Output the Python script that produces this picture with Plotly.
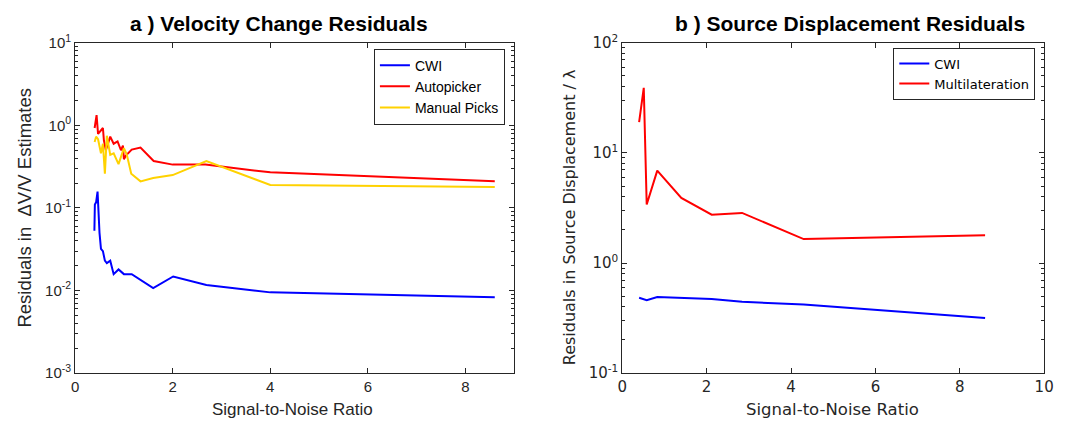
import plotly.graph_objects as go

# ---- Panel a data ----
cwi_a_x = [0.395, 0.405, 0.43, 0.46, 0.50, 0.53, 0.57, 0.61, 0.65, 0.72, 0.79, 0.89, 1.00, 1.16, 1.60, 2.01, 2.69, 4.0, 8.6]
cwi_a_y = [0.053, 0.11, 0.117, 0.158, 0.05, 0.032, 0.030, 0.023, 0.0215, 0.023, 0.0158, 0.018, 0.0158, 0.0158, 0.0107, 0.0148, 0.0117, 0.0095, 0.0083]

auto_x = [0.40, 0.44, 0.47, 0.57, 0.59, 0.63, 0.72, 0.79, 0.87, 0.94, 0.98, 1.00, 1.04, 1.16, 1.34, 1.61, 2.0, 2.67, 4.0, 8.6]
auto_y = [0.93, 1.33, 0.79, 0.93, 0.66, 0.50, 0.73, 0.60, 0.64, 0.50, 0.57, 0.39, 0.43, 0.51, 0.54, 0.37, 0.335, 0.335, 0.27, 0.21]

man_x = [0.40, 0.43, 0.47, 0.53, 0.57, 0.61, 0.65, 0.72, 0.79, 0.89, 1.00, 1.06, 1.15, 1.34, 1.60, 2.0, 2.69, 4.0, 8.6]
man_y = [0.63, 0.73, 0.68, 0.46, 0.60, 0.26, 0.75, 0.44, 0.46, 0.34, 0.53, 0.44, 0.26, 0.21, 0.23, 0.25, 0.37, 0.19, 0.18]

# ---- Panel b data ----
cwi_b_x = [0.40, 0.58, 0.83, 2.12, 2.84, 4.3, 8.6]
cwi_b_y = [0.483, 0.46, 0.49, 0.47, 0.444, 0.42, 0.316]

multi_x = [0.40, 0.51, 0.58, 0.83, 1.40, 2.12, 2.84, 4.3, 8.6]
multi_y = [19, 39, 3.4, 6.9, 3.9, 2.75, 2.85, 1.65, 1.79]

ya_vals = [1e-3, 1e-2, 1e-1, 1e0, 1e1]
ya_text = ["10<sup>-3</sup>", "10<sup>-2</sup>", "10<sup>-1</sup>", "10<sup>0</sup>", "10<sup>1</sup>"]
yb_vals = [1e-1, 1e0, 1e1, 1e2]
yb_text = ["10<sup>-1</sup>", "10<sup>0</sup>", "10<sup>1</sup>", "10<sup>2</sup>"]
xa_ticks = [0, 2, 4, 6, 8]
xb_ticks = [0, 2, 4, 6, 8, 10]

BLUE = "#0000FF"
RED = "#FF0000"
GOLD = "#FFD200"
AX = "#262626"

# page is offset by the default 8px body margin
W, H, OFF = 1058, 427, 8
def px(xp):
    return (xp - OFF) / W
def py(yp):
    return 1 - (yp - OFF) / H

fig = go.Figure()
fig.add_trace(go.Scatter(x=cwi_a_x, y=cwi_a_y, mode="lines", name="CWI",
                         line=dict(color=BLUE, width=2), xaxis="x", yaxis="y", legend="legend"))
fig.add_trace(go.Scatter(x=auto_x, y=auto_y, mode="lines", name="Autopicker",
                         line=dict(color=RED, width=2), xaxis="x", yaxis="y", legend="legend"))
fig.add_trace(go.Scatter(x=man_x, y=man_y, mode="lines", name="Manual Picks",
                         line=dict(color=GOLD, width=2), xaxis="x", yaxis="y", legend="legend"))
fig.add_trace(go.Scatter(x=cwi_b_x, y=cwi_b_y, mode="lines", name="CWI",
                         line=dict(color=BLUE, width=2), xaxis="x2", yaxis="y2", legend="legend2"))
fig.add_trace(go.Scatter(x=multi_x, y=multi_y, mode="lines", name="Multilateration",
                         line=dict(color=RED, width=2), xaxis="x2", yaxis="y2", legend="legend2"))

ydom = [py(379.5), py(33)]

def xax(dom, rng, tv, anchor, font):
    return dict(domain=dom, range=rng, tickvals=tv, ticktext=[str(v) for v in tv],
                anchor=anchor, showline=True, linecolor=AX, linewidth=1, mirror="allticks",
                ticks="inside", ticklen=5, tickcolor=AX, showgrid=False, zeroline=False,
                tickfont=dict(family=font, size=15, color=AX))

def yax(dom, rng, tv, tt, anchor, font):
    return dict(domain=dom, type="log", range=rng, tickvals=tv, ticktext=tt,
                anchor=anchor, showline=True, linecolor=AX, linewidth=1, mirror="allticks",
                ticks="inside", ticklen=5, tickcolor=AX, showgrid=False, zeroline=False,
                tickfont=dict(family=font, size=15, color=AX),
                minor=dict(tickmode="linear", dtick="D1", ticks="inside", ticklen=3,
                           tickwidth=1, tickcolor=AX, showgrid=False))

fig.update_layout(
    width=W, height=H,
    margin=dict(l=0, r=0, t=0, b=0),
    paper_bgcolor="white", plot_bgcolor="white",
    xaxis=xax([px(71), px(516.5)], [0, 9], xa_ticks, "y", "Liberation Sans"),
    yaxis=yax(ydom, [-3, 1], ya_vals, ya_text, "x", "Liberation Sans"),
    xaxis2=xax([px(626), px(1054)], [0, 10], xb_ticks, "y2", "DejaVu Sans"),
    yaxis2=yax(ydom, [-1, 2], yb_vals, yb_text, "x2", "DejaVu Sans"),
    legend=dict(x=px(507), y=py(39), xanchor="right", yanchor="top",
                bgcolor="white", bordercolor=AX, borderwidth=1,
                font=dict(family="Liberation Sans", size=14, color="black"),
                itemwidth=30, tracegroupgap=0),
    legend2=dict(x=px(1045), y=py(38), xanchor="right", yanchor="top",
                 bgcolor="white", bordercolor=AX, borderwidth=1,
                 font=dict(family="DejaVu Sans", size=13, color="black"),
                 itemwidth=30, tracegroupgap=0),
    annotations=[
        dict(text="<b>a ) Velocity Change Residuals</b>", x=px(278), y=py(13),
             xref="paper", yref="paper", showarrow=False, xanchor="center", yanchor="middle",
             font=dict(family="Liberation Sans", size=21, color="black")),
        dict(text="<b>b ) Source Displacement Residuals</b>", x=px(857), y=py(13),
             xref="paper", yref="paper", showarrow=False, xanchor="center", yanchor="middle",
             font=dict(family="Liberation Sans", size=21, color="black")),
        dict(text="Signal-to-Noise Ratio", x=px(292), y=py(418),
             xref="paper", yref="paper", showarrow=False, xanchor="center", yanchor="middle",
             font=dict(family="Liberation Sans", size=17, color=AX)),
        dict(text="Signal-to-Noise Ratio", x=px(839), y=py(418),
             xref="paper", yref="paper", showarrow=False, xanchor="center", yanchor="middle",
             font=dict(family="DejaVu Sans", size=16.5, color=AX)),
        dict(text="Residuals in  \u0394V/V Estimates", x=px(20), y=py(206),
             xref="paper", yref="paper", showarrow=False, textangle=-90,
             xanchor="center", yanchor="middle",
             font=dict(family="Liberation Sans", size=18.5, color=AX)),
        dict(text="Residuals in Source Displacement / \u03bb", x=px(572), y=py(216),
             xref="paper", yref="paper", showarrow=False, textangle=-90,
             xanchor="center", yanchor="middle",
             font=dict(family="DejaVu Sans", size=16, color=AX)),
    ],
)

fig.write_html("out.html")
